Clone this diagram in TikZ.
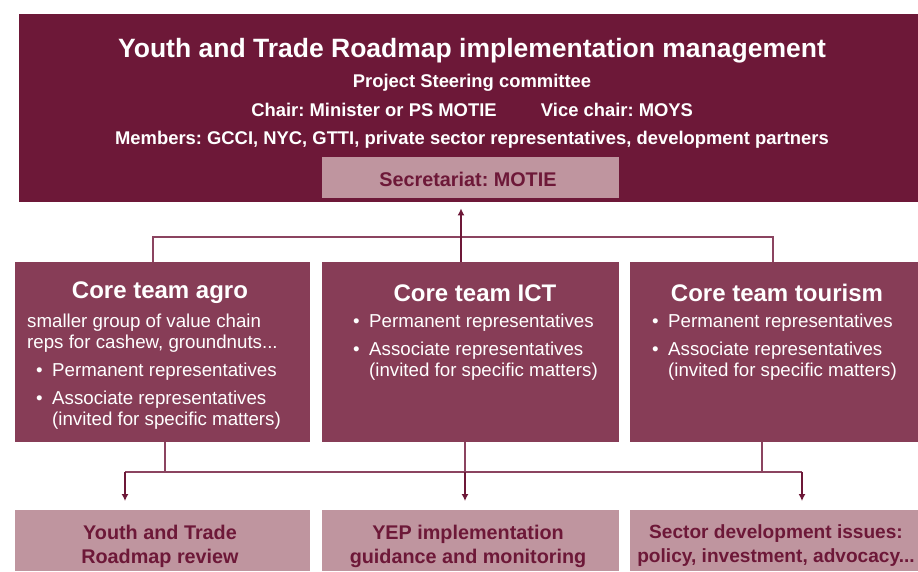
\documentclass[tikz,border=0pt]{standalone}
\usepackage{fontspec}
\setmainfont{Liberation Sans}
\usetikzlibrary{arrows.meta}
\frenchspacing

\definecolor{darkwine}{HTML}{6D1838}
\definecolor{wine}{HTML}{873D57}
\definecolor{rose}{HTML}{BF959F}
\definecolor{linewine}{HTML}{8B4460}

\newcommand{\bul}{\makebox[16pt][l]{\textbullet}}
\newcommand{\ind}{\hspace*{16pt}}

\tikzset{
  box/.style={inner sep=0pt, anchor=north west},
  headtxt/.style={text=white, font=\bfseries\fontsize{18.4}{21}\selectfont, inner sep=0pt},
  teamhead/.style={text=white, font=\bfseries\fontsize{24}{28}\selectfont, inner sep=0pt},
  teamtxt/.style={text=white, font=\fontsize{18.7}{21}\selectfont, align=left, inner sep=0pt, anchor=north west},
  resulttxt/.style={text=darkwine, font=\bfseries\fontsize{19.8}{24}\selectfont, align=center, inner sep=0pt},
  link/.style={draw=linewine, line width=1.3pt},
  arr/.style={draw=darkwine, line width=1.3pt, -{Latex[length=7pt,width=7pt]}}
}

\begin{document}
\begin{tikzpicture}[x=1pt, y=-1pt]
   \useasboundingbox (0,0) rectangle (918,571);

   % draw steering committee
   \node[box, fill=darkwine, minimum width=899pt, minimum height=188pt] (psc) at (19,14) {};
   \node[box, fill=rose, minimum width=297pt, minimum height=41pt] (secr) at (322,157) {};
   \node[headtxt, font=\bfseries\fontsize{26.5}{30}\selectfont] (title) at (472,51) {Youth and Trade Roadmap implementation management};
   \node[headtxt] (steer) at (472,83) {Project Steering committee};
   \node[headtxt] (chair) at (374,110) {Chair: Minister or PS MOTIE};
   \node[headtxt] (vice) at (617,110) {Vice chair: MOYS};
   \node[headtxt] (members) at (472,140) {Members: GCCI, NYC, GTTI, private sector representatives, development partners};
   \node[headtxt, text=darkwine, font=\bfseries\fontsize{19.8}{24}\selectfont] (secrtxt) at (468,179) {Secretariat: MOTIE};

   % draw core teams
   \node[box, fill=wine, minimum width=295pt, minimum height=180pt] (agro) at (15,262) {};
   \node[box, fill=wine, minimum width=297pt, minimum height=180pt] (ict) at (322,262) {};
   \node[box, fill=wine, minimum width=288pt, minimum height=180pt] (tour) at (630,262) {};

   \node[teamhead] (agrohead) at (160,293) {Core team agro};
   \node[teamhead] (icthead) at (475,293) {Core team ICT};
   \node[teamhead] (tourhead) at (777,293) {Core team tourism};

   \node[teamtxt] (agrotxt) at (27,313.5) {smaller group of value chain\\reps for cashew, groundnuts...\\[7pt]
     \hspace*{9pt}\makebox[16pt][l]{\textbullet}Permanent representatives\\[7pt]\hspace*{9pt}\makebox[16pt][l]{\textbullet}Associate representatives\\\hspace*{25pt}(invited for specific matters)};
   \node[teamtxt] (icttxt) at (353,314) {\bul Permanent representatives\\[7pt]\bul Associate representatives\\\ind(invited for specific matters)};
   \node[teamtxt] (tourtxt) at (652,314) {\bul Permanent representatives\\[7pt]\bul Associate representatives\\\ind(invited for specific matters)};

   % draw results
   \node[box, fill=rose, minimum width=295pt, minimum height=61pt] (review) at (15,510) {};
   \node[box, fill=rose, minimum width=297pt, minimum height=61pt] (yep) at (322,510) {};
   \node[box, fill=rose, minimum width=288pt, minimum height=61pt] (sector) at (630,510) {};

   \node[resulttxt] (reviewtxt) at (160,546) {Youth and Trade\\Roadmap review};
   \node[resulttxt] (yeptxt) at (468,546) {YEP implementation\\guidance and monitoring};
   \node[resulttxt, font=\bfseries\fontsize{19.1}{24}\selectfont] (sectortxt) at (776,546) {Sector development issues:\\policy, investment, advocacy...};

   % draw connectors up
   \coordinate (up) at (461,237);
   \coordinate (ja) at (153,237);
   \coordinate (jt) at (773,237);
   \draw[link] (ja |- agro.north) -- (ja) -- (jt) -- (jt |- tour.north);
   \draw[arr] (up |- ict.north) -- ([yshift=-6pt]up |- psc.south);

   % draw connectors down
   \coordinate (ba) at (165,472);
   \coordinate (bt) at (762,472);
   \coordinate (da) at (125,472);
   \coordinate (di) at (465,472);
   \coordinate (dt) at (802,472);
   \draw[link] (ba |- agro.south) -- (ba);
   \draw[link] (bt |- tour.south) -- (bt);
   \draw[link] (di |- ict.south) -- (di);
   \draw[link] (da) -- (dt);
   \foreach \c/\n in {da/review, di/yep, dt/sector}
     \draw[arr] (\c) -- ([yshift=9pt]\c |- \n.north);
\end{tikzpicture}
\end{document}
